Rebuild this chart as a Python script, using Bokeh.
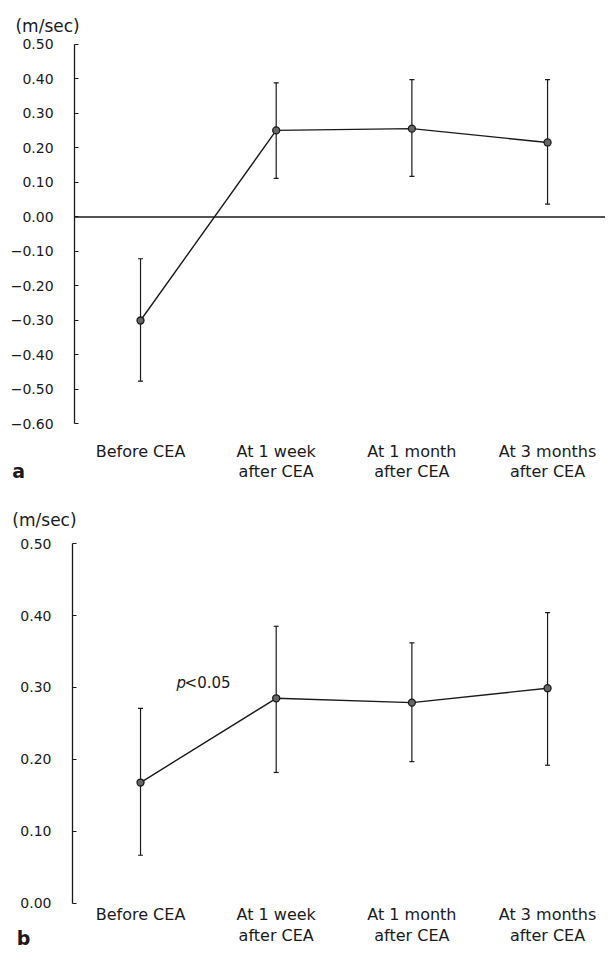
from bokeh.plotting import figure
from bokeh.models import (Range1d, FixedTicker, Whisker, TeeHead, Label,
                          ColumnDataSource)
from bokeh.layouts import column
from bokeh.embed import file_html
from bokeh.resources import INLINE

# ---------------- data ----------------
categories = ["Before CEA", "At 1 week\nafter CEA", "At 1 month\nafter CEA", "At 3 months\nafter CEA"]
x_pos = [0, 1, 2, 3]

a_mean = [-0.300, 0.251, 0.256, 0.216]
a_upper = [-0.121, 0.389, 0.398, 0.398]
a_lower = [-0.476, 0.112, 0.118, 0.037]
a_ticks = [-0.6, -0.5, -0.4, -0.3, -0.2, -0.1, 0.0, 0.1, 0.2, 0.3, 0.4, 0.5]

b_mean = [0.168, 0.285, 0.279, 0.299]
b_upper = [0.271, 0.385, 0.362, 0.404]
b_lower = [0.067, 0.182, 0.197, 0.192]
b_ticks = [0.0, 0.1, 0.2, 0.3, 0.4, 0.5]

unit_label = "(m/sec)"
FONT = "DejaVu Sans"
INK = "#1a1a1a"


def tick_text(t):
    return f"{t:.2f}".replace("-", "\u2212")


def make_panel(mean, upper, lower, ticks, height, xr, yr, axis_x, cat_standoff):
    p = figure(width=605, height=height, output_backend="svg", toolbar_location=None,
               x_range=Range1d(*xr), y_range=Range1d(*yr),
               min_border_left=0, min_border_right=0,
               min_border_top=0, min_border_bottom=0)
    p.outline_line_color = None
    p.xgrid.grid_line_color = None
    p.ygrid.grid_line_color = None
    p.background_fill_color = "white"
    p.border_fill_color = "white"

    # y axis, pinned at the left edge of the data area
    yax = p.yaxis[0]
    yax.fixed_location = axis_x
    yax.bounds = (ticks[0], ticks[-1])
    yax.ticker = FixedTicker(ticks=ticks)
    yax.major_label_overrides = {t: tick_text(t) for t in ticks}
    yax.axis_line_color = INK
    yax.axis_line_width = 1.3
    yax.major_tick_in = 4
    yax.major_tick_out = 0
    yax.major_tick_line_color = INK
    yax.minor_tick_line_color = None
    yax.major_label_standoff = 21
    yax.major_label_text_font = FONT
    yax.major_label_text_font_size = "14px"
    yax.major_label_text_color = INK

    # x axis (category labels), pinned at the bottom of the data area
    xax = p.xaxis[0]
    xax.fixed_location = ticks[0]
    xax.ticker = FixedTicker(ticks=x_pos)
    xax.major_label_overrides = {x: c for x, c in zip(x_pos, categories)}
    xax.axis_line_color = None
    xax.major_tick_line_color = None
    xax.minor_tick_line_color = None
    xax.major_tick_out = 0
    xax.major_tick_in = 0
    xax.major_label_standoff = cat_standoff
    xax.major_label_text_font = FONT
    xax.major_label_text_font_size = "16px"
    xax.major_label_text_color = INK
    xax.major_label_text_line_height = 1.07

    src = ColumnDataSource(dict(x=x_pos, y=mean, upper=upper, lower=lower))
    p.add_layout(Whisker(base="x", upper="upper", lower="lower", source=src,
                         line_color=INK, line_width=1.2,
                         upper_head=TeeHead(size=5, line_color=INK, line_width=1.2),
                         lower_head=TeeHead(size=5, line_color=INK, line_width=1.2)))
    p.line("x", "y", source=src, line_color=INK, line_width=1.4)
    p.scatter("x", "y", source=src, size=7, fill_color="#666666",
              line_color=INK, line_width=1.3)
    return p


def add_text(p, x, y, text, size, style="normal", align="center"):
    p.add_layout(Label(x=x, y=y, text=text, text_align=align, text_baseline="middle",
                       text_font=FONT, text_font_size=size, text_font_style=style,
                       text_color=INK))


# panel a
a_axis_x = -0.486
a_xr = (-1.032, 3.427)
pa = make_panel(a_mean, a_upper, a_lower, a_ticks, 488, a_xr, (-0.787, 0.6275),
                a_axis_x, cat_standoff=18)
pa.segment(x0=[a_axis_x], y0=[0.0], x1=[a_xr[1]], y1=[0.0], line_color=INK, line_width=1.3)
add_text(pa, -0.685, 0.555, unit_label, "17px")
add_text(pa, -0.899, -0.735, "a", "19px", style="bold")

# panel b
b_axis_x = -0.501
pb = make_panel(b_mean, b_upper, b_lower, b_ticks, 462, (-1.032, 3.427), (-0.0653, 0.5764),
                b_axis_x, cat_standoff=2)
add_text(pb, -0.708, 0.532, unit_label, "17px")
add_text(pb, -0.862, -0.0486, "b", "19px", style="bold")
add_text(pb, 0.265, 0.306, "p", "15px", style="italic", align="left")
add_text(pb, 0.325, 0.306, "<0.05", "15px", align="left")

layout = column(pa, pb)
open("out.html", "w").write(file_html(layout, INLINE))
